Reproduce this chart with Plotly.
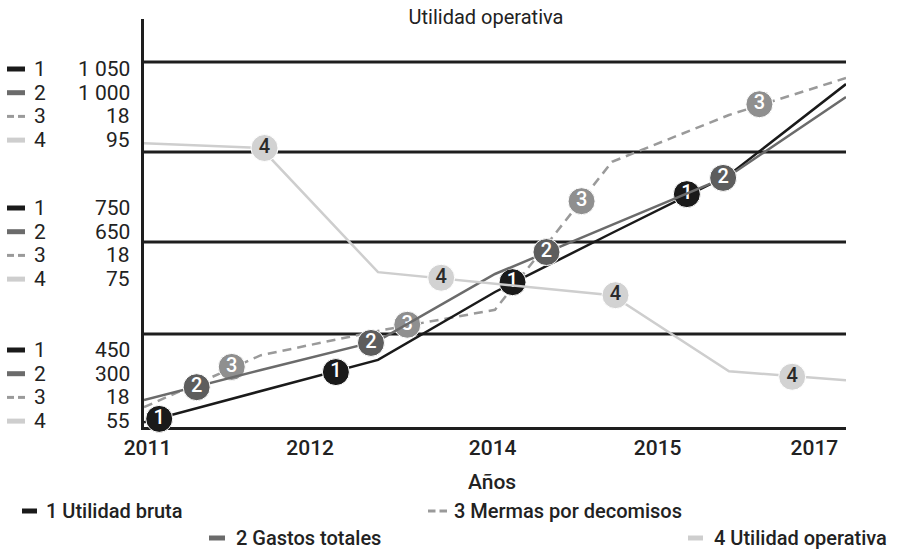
import plotly.graph_objects as go

# Datos (cada serie tiene su propia escala)
anios = [2011, 2012, 2013, 2014, 2015, 2016, 2017]
utilidad_bruta = [296, 363, 429, 574, 700, 824, 1018]
gastos_totales = [230, 305, 378, 546, 669, 792, 990]
mermas_decomisos = [328, 439, 491, 536, 852, 952, 1031]
utilidad_operativa = [94.7, 94.0, 76.2, 74.6, 72.9, 62.0, 60.7]

# Marcadores numerados sobre cada linea
marca_x_1 = [2011.13, 2012.64, 2014.15, 2015.64]
marca_y_1 = [303, 403, 595, 783]
marca_x_2 = [2011.45, 2012.94, 2014.44, 2015.95]
marca_y_2 = [262, 373, 601, 787]
marca_x_3 = [2011.75, 2013.25, 2014.74, 2016.26]
marca_y_3 = [414, 504, 768, 975]
marca_x_4 = [2012.03, 2013.54, 2015.03, 2016.54]
marca_y_4 = [94.0, 75.4, 72.9, 61.2]

nombres = ['Utilidad bruta', 'Gastos totales', 'Mermas por decomisos', 'Utilidad operativa']

# Etiquetas del eje x y grupos de etiquetas del eje y
tick_pos = [2011.03, 2012.42, 2013.98, 2015.39, 2016.73]
tick_txt = ['2011', '2012', '2014', '2015', '2017']
etiquetas_y = [['1 050', '1 000', '18', '95'],
               ['750', '650', '18', '75'],
               ['450', '300', '18', '55']]

# area de trazado en pixeles
L, R, T, B = 144, 846, 19, 427


def px(x):
    return (x - L) / (R - L)


def py(y):
    return (B - y) / (B - T)


FUENTE = 'Roboto'
TXT = '#222222'
col_linea = ['#1a1a1a', '#6b6b6b', '#9a9a9a', '#cecece']
col_marca = ['#1a1a1a', '#5d5d5d', '#8f8f8f', '#d2d2d2']
col_num = ['white', 'white', 'white', '#2a2a2a']
ejes = ['y', 'y2', 'y', 'y3']
series = [utilidad_bruta, gastos_totales, mermas_decomisos, utilidad_operativa]
marcas = [(marca_x_1, marca_y_1), (marca_x_2, marca_y_2),
          (marca_x_3, marca_y_3), (marca_x_4, marca_y_4)]

fig = go.Figure()

for i in [3, 2, 1, 0]:
    fig.add_trace(go.Scatter(
        x=anios, y=series[i], yaxis=ejes[i], mode='lines', name=nombres[i],
        line=dict(color=col_linea[i], width=2.5, dash='9px,6px' if i == 2 else 'solid'),
        showlegend=False, hoverinfo='skip'))

for i in [3, 2, 1, 0]:
    mx, my = marcas[i]
    fig.add_trace(go.Scatter(
        x=mx, y=my, yaxis=ejes[i], mode='markers+text', text=[str(i + 1)] * len(mx),
        textposition='middle center',
        textfont=dict(family=FUENTE, size=20, color=col_num[i], weight=500),
        marker=dict(size=27, color=col_marca[i], line=dict(color='white', width=1)),
        cliponaxis=False, showlegend=False, hoverinfo='skip'))

shapes = []
annotations = []

# lineas horizontales de la rejilla
for y in [334, 242, 152, 62]:
    shapes.append(dict(type='line', xref='paper', yref='paper', x0=0, x1=1,
                       y0=py(y), y1=py(y), layer='below',
                       line=dict(color='#1e1e1e', width=3)))


def glifo(x0, x1, y, i, grosor=5):
    if i == 2:
        mitad = (x0 + x1) / 2
        for a, b in [(x0, mitad - 2), (mitad + 2, x1)]:
            shapes.append(dict(type='line', xref='paper', yref='paper',
                               x0=px(a), x1=px(b), y0=py(y), y1=py(y),
                               line=dict(color=col_linea[i], width=3)))
    else:
        shapes.append(dict(type='line', xref='paper', yref='paper',
                           x0=px(x0), x1=px(x1), y0=py(y), y1=py(y),
                           line=dict(color=col_linea[i], width=grosor)))


# grupos de etiquetas a la izquierda
grupo_top = [69, 208, 350]
for g, grupo in enumerate(etiquetas_y):
    for r, val in enumerate(grupo):
        y = grupo_top[g] + r * 23.7
        glifo(7, 25, y, r)
        annotations.append(dict(x=px(40), y=py(y), xref='paper', yref='paper', text=str(r + 1),
                                showarrow=False, xanchor='center', yanchor='middle',
                                font=dict(family=FUENTE, size=21, color=TXT)))
        annotations.append(dict(x=px(132), y=py(y), xref='paper', yref='paper', text=val,
                                showarrow=False, xanchor='right', yanchor='middle',
                                font=dict(family=FUENTE, size=21, color=TXT)))

# leyenda inferior
leyenda = [(0, 22, 37, 44, 511), (2, 428, 447, 452, 511),
           (1, 209, 225, 234, 538), (3, 688, 703, 712, 538)]
for i, g0, g1, tx, y in leyenda:
    glifo(g0, g1, y, i)
    annotations.append(dict(x=px(tx), y=py(y), xref='paper', yref='paper',
                            text=f'{i + 1} {nombres[i]}', showarrow=False,
                            xanchor='left', yanchor='middle',
                            font=dict(family=FUENTE, size=20, color=TXT, weight=500)))

annotations.append(dict(x=px(492), y=py(482), xref='paper', yref='paper', text='Años',
                        showarrow=False, xanchor='center', yanchor='middle',
                        font=dict(family=FUENTE, size=21, color=TXT, weight=500)))

fig.update_layout(
    width=917, height=552,
    margin=dict(l=L, r=917 - R, t=T, b=552 - B),
    paper_bgcolor='white', plot_bgcolor='white',
    title=dict(text='Utilidad operativa', x=px(486), xref='paper', xanchor='center',
               y=1 - 17 / 552, yref='container', yanchor='middle',
               font=dict(family=FUENTE, size=20, color=TXT)),
    xaxis=dict(range=[2011, 2017], tickvals=tick_pos, ticktext=tick_txt,
               showline=True, linecolor='#1e1e1e', linewidth=3, ticks='',
               showgrid=False, zeroline=False, layer='below traces',
               tickfont=dict(family=FUENTE, size=21, color=TXT, weight=500)),
    yaxis=dict(range=[285.7, 1157], showticklabels=False, showgrid=False, ticks='',
               showline=True, linecolor='#1e1e1e', linewidth=3, zeroline=False,
               layer='below traces'),
    yaxis2=dict(range=[162.1, 1185.7], overlaying='y', visible=False),
    yaxis3=dict(range=[54.0, 112.5], overlaying='y', visible=False),
    shapes=shapes, annotations=annotations,
)

# sin el margen por defecto del body, la figura ocupa toda la ventana
fig.write_html('out.html', config={'displayModeBar': False},
               post_script="document.body.style.margin='0';")
